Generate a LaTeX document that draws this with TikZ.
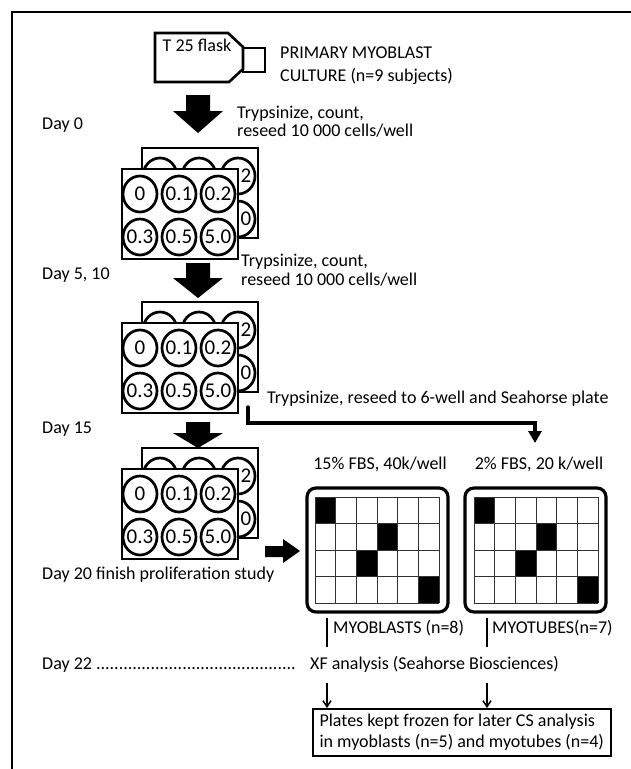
\documentclass[tikz,border=0pt]{standalone}
\usepackage{fontspec}
\setmainfont{Carlito}
\usetikzlibrary{arrows.meta}

\begin{document}
\begin{tikzpicture}[x=1pt,y=-1pt,
    txt/.style={font=\fontsize{18}{21}\selectfont, inner sep=0pt, anchor=base west},
    welltxt/.style={font=\fontsize{21}{23}\selectfont, inner sep=0pt},
    platebox/.style={line width=2.8pt, fill=white},
    wellline/.style={line width=2.7pt},
    gridline/.style={line width=0.9pt, black!80}]
\useasboundingbox (0,0) rectangle (631,769);
\draw[line width=1.6pt] (12,769) -- (12,12) -- (631,12);

% flask
\draw[line width=2.6pt] (155,33) -- (228,33) -- (243,47) -- (243,69) -- (229,82) -- (155,82) -- cycle;
\draw[line width=2.6pt] (243,48) rectangle (265,72);
\node[font=\fontsize{18}{21}\selectfont, inner sep=0pt] (flask) at (197,45) {T 25 flask};
\node[txt] (primary) at (280,58) {PRIMARY MYOBLAST};
\node[txt] (culture) at (280,81) {CULTURE (n=9 subjects)};

% day labels
\node[txt] (day0) at (42,129) {Day 0};
\node[txt] (day5) at (42,279) {Day 5, 10};
\node[txt] (day15) at (42,433) {Day 15};
\node[txt] (day20) at (42,579) {Day 20 finish proliferation study};
\node[txt] (day22) at (42,669) {Day 22 ............................................};

% steps
\node[txt] (tryp1) at (237,118) {Trypsinize, count,};
\node[txt] (reseed1) at (237,136) {reseed 10 000 cells/well};
\node[txt] (tryp2) at (241,266) {Trypsinize, count,};
\node[txt] (reseed2) at (241,285) {reseed 10 000 cells/well};
\node[txt] (tryp3) at (267,403) {Trypsinize, reseed to 6-well and Seahorse plate};

% big arrows
\foreach \ya/\yb/\yc in {95/111/133, 263/278/298, 422/433/448}
    \fill (186,\ya) -- (210,\ya) -- (210,\yb) -- (223,\yb) -- (198,\yc) -- (173,\yb) -- (186,\yb) -- cycle;
\fill (265,546) -- (283,546) -- (283,539) -- (300,551) -- (283,563) -- (283,557) -- (265,557) -- cycle;

% 6-well plates, back plate first (only its right column shows labels)
\foreach \py [count=\k] in {169,323,469} {
    \draw[platebox] (142,\py-21) rectangle ++(116,90);
    \foreach \cx/\cy in {18/28, 57/28, 96/28, 18/71, 57/71, 96/71}
        \draw[wellline] (142+\cx,\py-21+\cy) ellipse [x radius=17pt, y radius=18pt];
    \node[welltxt] (w\k b1) at (238,\py+7) {0.2};
    \node[welltxt] (w\k b2) at (238,\py+50) {5.0};
    \draw[platebox] (122,\py) rectangle ++(116,90);
    \foreach \cx/\cy/\lab [count=\i] in {18/25/0, 57/25/0.1, 96/25/0.2, 18/68/0.3, 57/68/0.5, 96/68/5.0} {
        \draw[wellline] (122+\cx,\py+\cy) ellipse [x radius=17pt, y radius=18pt];
        \node[welltxt] (w\k f\i) at (122+\cx,\py+\cy) {\lab};
    }
}

% seahorse plates
\node[txt, anchor=base] (fbs15) at (380,469) {15\% FBS, 40k/well};
\node[txt, anchor=base] (fbs2) at (539,469) {2\% FBS, 20 k/well};
\foreach \ox/\gx in {307/315, 465/474} {
    \draw[line width=3.2pt, rounded corners=9pt] (\ox,488) rectangle ++(141,124);
    \foreach \c/\r in {0/0, 3/1, 2/2, 5/3}
        \fill (\gx+\c*20.67,497+\r*26.5) rectangle ++(20.67,26.5);
    \foreach \i in {0,...,6}
        \draw[gridline] (\gx+\i*20.67,497) -- ++(0,106);
    \foreach \j in {0,...,4}
        \draw[gridline] (\gx,497+\j*26.5) -- ++(124,0);
}

% reseed connector
\coordinate (lstart) at (248,407);
\coordinate (ltip) at (535,443);
\draw[line width=3.5pt, line cap=round, -{Triangle[length=12pt,width=13pt]}] (lstart) -- ++(0,16) -| (ltip);

% analysis
\node[txt] (mblast) at (333,633) {MYOBLASTS (n=8)};
\node[txt] (mtube) at (492,633) {MYOTUBES(n=7)};
\node[txt] (xf) at (310,669) {XF analysis (Seahorse Biosciences)};
\coordinate (barA) at (327,618);
\coordinate (barB) at (487,618);
\draw[line width=1.6pt] (barA) -- (barA |- 0,647);
\draw[line width=1.6pt] (barB) -- (barB |- 0,647);
\node[draw, line width=1.5pt, anchor=north west, font=\fontsize{18}{21}\selectfont, align=left,
      inner xsep=4pt, minimum width=298pt, minimum height=47pt] (froz) at (312,708)
      {Plates kept frozen for later CS analysis\\in myoblasts (n=5) and myotubes (n=4)};
\coordinate (arrA) at (327,683);
\coordinate (arrB) at (487,683);
\draw[line width=1.5pt, -{Straight Barb[length=6pt,width=8pt]}] (arrA) -- (arrA |- froz.north);
\draw[line width=1.5pt, -{Straight Barb[length=6pt,width=8pt]}] (arrB) -- (arrB |- froz.north);
\end{tikzpicture}
\end{document}
